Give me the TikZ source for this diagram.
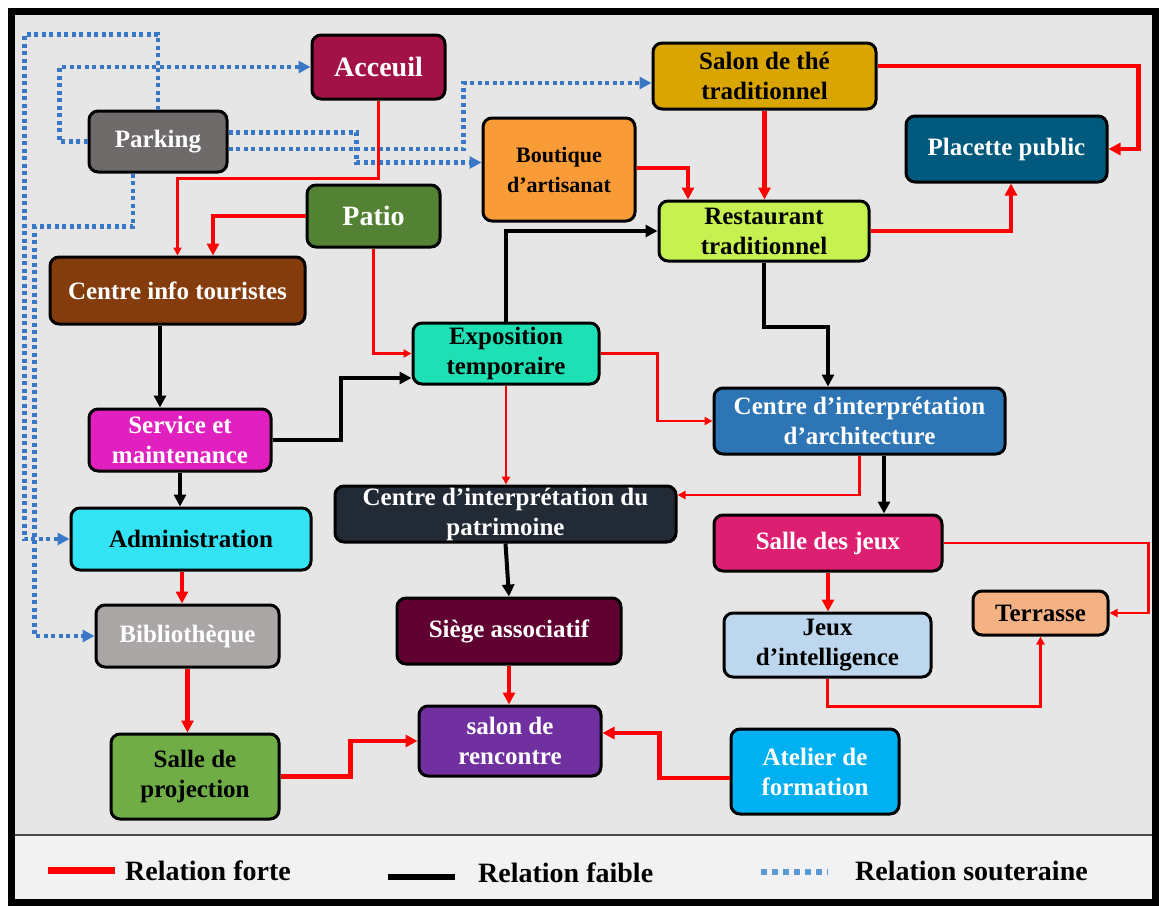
\documentclass[tikz,border=0pt]{standalone}
\usepackage{fontspec}
\setmainfont{Liberation Serif}
\usepackage{tikz}
\usetikzlibrary{arrows.meta}

\definecolor{fond}{HTML}{E6E6E6}
\definecolor{fondleg}{HTML}{F2F2F2}
\definecolor{soutblue}{HTML}{3A78C6}
\definecolor{legblue}{HTML}{5B9BD5}
\definecolor{cAcc}{HTML}{A31246}
\definecolor{cPark}{HTML}{6F6A6A}
\definecolor{cThe}{HTML}{D9A500}
\definecolor{cBout}{HTML}{F99B36}
\definecolor{cPlac}{HTML}{015A7D}
\definecolor{cPatio}{HTML}{548235}
\definecolor{cRest}{HTML}{C6F151}
\definecolor{cCit}{HTML}{843C0C}
\definecolor{cExpo}{HTML}{1EE0B4}
\definecolor{cServ}{HTML}{E021C0}
\definecolor{cArch}{HTML}{2E75B6}
\definecolor{cPatr}{HTML}{222A35}
\definecolor{cAdmin}{HTML}{33E3F3}
\definecolor{cJeux}{HTML}{DD1F72}
\definecolor{cTerr}{HTML}{F4B183}
\definecolor{cIntel}{HTML}{BDD7EE}
\definecolor{cBiblio}{HTML}{AAA6A6}
\definecolor{cSiege}{HTML}{5F0030}
\definecolor{cSalon}{HTML}{7030A0}
\definecolor{cProj}{HTML}{70AD47}
\definecolor{cAtel}{HTML}{00B0F0}

\begin{document}
\begin{tikzpicture}[x=1pt,y=-1pt,
		box/.style={draw=black,line width=3pt,rounded corners=9pt,align=center,inner sep=0pt,
			font=\fontsize{25}{30}\selectfont\bfseries},
		forte/.style={red,line width=4.5pt,-{Triangle[length=12pt,width=12pt]}},
		fine/.style={red,line width=2.5pt,-{Triangle[length=8pt,width=8pt]}},
		faible/.style={black,line width=4pt,-{Triangle[length=12pt,width=12pt]}},
		souterrain/.style={soutblue,line width=4.5pt,dash pattern=on 4pt off 3.5pt,-{Triangle[length=12pt,width=12pt]}},
		legende/.style={anchor=west,inner sep=0pt,font=\fontsize{28}{32}\selectfont\bfseries}]
			\useasboundingbox (0,0) rectangle (1159,905);
			% fond et cadre
			\fill[white] (0,0) rectangle (1159,905);
			\fill[fond] (12,11) rectangle (1155,835);
			\fill[fondleg] (12,835) rectangle (1155,902);
			\draw[line width=2pt,black!70] (12,835) -- (1155,835);
			\draw[line width=7pt] (11.5,11) rectangle (1155,902);
			% espaces
			\node[box,fill=cAcc,text=white,minimum width=133pt,minimum height=64pt,font=\fontsize{28}{32}\selectfont\bfseries] (acc) at (378.5,67) {Acceuil};
			\node[box,fill=cPark,text=white,minimum width=138pt,minimum height=61pt] (park) at (158,141.5) {Parking};
			\node[box,fill=cThe,minimum width=223pt,minimum height=66pt] (the) at (764.5,76) {Salon de thé\\traditionnel};
			\node[box,fill=cBout,minimum width=152pt,minimum height=103pt,font=\fontsize{22}{30}\selectfont\bfseries] (bout) at (559,169.5) {Boutique\\d’artisanat};
			\node[box,fill=cPlac,text=white,minimum width=201pt,minimum height=66pt] (plac) at (1006.5,149) {Placette public};
			\node[box,fill=cPatio,text=white,minimum width=133pt,minimum height=62pt,font=\fontsize{28}{32}\selectfont\bfseries] (patio) at (373.5,216) {Patio};
			\node[box,fill=cRest,minimum width=210pt,minimum height=60pt] (rest) at (764,231) {Restaurant\\traditionnel};
			\node[box,fill=cCit,text=white,minimum width=255pt,minimum height=67pt] (cit) at (177.5,290.5) {Centre info touristes};
			\node[box,fill=cExpo,minimum width=186pt,minimum height=61pt] (expo) at (506,353.5) {Exposition\\temporaire};
			\node[box,fill=cServ,text=white,minimum width=182pt,minimum height=62pt] (serv) at (180,440) {Service et\\maintenance};
			\node[box,fill=cArch,text=white,minimum width=291pt,minimum height=66pt] (arch) at (859.5,421) {Centre d’interprétation\\d’architecture};
			\node[box,fill=cPatr,text=white,minimum width=341pt,minimum height=56pt] (patr) at (505.5,514) {Centre d’interprétation du\\patrimoine};
			\node[box,fill=cAdmin,minimum width=240pt,minimum height=62pt] (admin) at (191,539) {Administration};
			\node[box,fill=cJeux,text=white,minimum width=228pt,minimum height=56pt] (jeux) at (828,543) {Salle des jeux};
			\node[box,fill=cTerr,minimum width=135pt,minimum height=44pt] (terr) at (1040.5,613) {Terrasse};
			\node[box,fill=cIntel,minimum width=207pt,minimum height=64pt] (intel) at (827.5,645) {Jeux\\d’intelligence};
			\node[box,fill=cBiblio,text=white,minimum width=183pt,minimum height=62pt] (biblio) at (187.5,636) {Bibliothèque};
			\node[box,fill=cSiege,text=white,minimum width=224pt,minimum height=66pt] (siege) at (509,631) {Siège associatif};
			\node[box,fill=cSalon,text=white,minimum width=182pt,minimum height=70pt] (salon) at (510,741) {salon de\\rencontre};
			\node[box,fill=cProj,minimum width=168pt,minimum height=85pt] (proj) at (195,776.5) {Salle de\\projection};
			\node[box,fill=cAtel,text=white,minimum width=168pt,minimum height=85pt] (atel) at (815,771.5) {Atelier de\\formation};
			% relations souterraines
			\draw[souterrain] (park.north) -- ++(0,-75) -| ([xshift=-45pt]admin.west) -- (admin.west);
			\draw[souterrain] ([xshift=-25pt]park.south) -- ++(0,53) -| ([xshift=-60pt]biblio.west) -- (biblio.west);
			\draw[souterrain] (park.west) -- ++(-28,0) |- (acc.west);
			\draw[souterrain] ([yshift=9pt]park.east) -- ++(128,0) |- ([yshift=7pt]bout.west);
			\draw[souterrain] ([yshift=-7.5pt]park.east) -- ++(235,0) |- ([yshift=-7pt]the.west);
			% relations fortes
			\draw[fine] (acc.south) -- ++(0,78) -| (cit.north);
			\draw[forte] (patio.west) -| ([xshift=35.5pt]cit.north);
			\draw[fine] (patio.south) |- (expo.west);
			\draw[forte] ([yshift=10pt]the.east) -- ++(261,0) |- (plac.east);
			\draw[forte] (the.south) -- (the.south |- rest.north);
			\draw[forte] ([yshift=1.5pt]bout.east) -| ([xshift=-76pt]rest.north);
			\draw[forte] (rest.east) -| ([xshift=4.5pt]plac.south);
			\draw[fine] (expo.east) -- ++(57,0) |- (arch.west);
			\draw[fine] (expo.south) -- (expo.south |- patr.north);
			\draw[fine] (arch.south) |- ([yshift=19pt]patr.east);
			\draw[fine] (jeux.east) -- ++(205,0) |- (terr.east);
			\draw[forte] (jeux.south) -- (jeux.south |- intel.north);
			\draw[fine] (intel.south) -- ++(0,28) -| (terr.south);
			\draw[forte] ([xshift=-9pt]admin.south) -- ([xshift=-5.5pt]biblio.north);
			\draw[forte] (biblio.south) -- (biblio.south |- proj.north);
			\draw[forte] (proj.east) -- ++(70,0) |- (salon.west);
			\draw[forte] (siege.south) -- (siege.south |- salon.north);
			\draw[forte] ([yshift=-6.5pt]atel.west) -- ++(-70,0) |- ([yshift=8pt]salon.east);
			% relations faibles
			\draw[faible] ([xshift=-17.5pt]cit.south) -- ([xshift=-20pt]serv.north);
			\draw[faible] (serv.east) -- ++(68,0) |- ([yshift=-24.5pt]expo.west);
			\draw[faible] (expo.north) |- (rest.west);
			\draw[faible] (rest.south) -- ++(0,64) -| ([xshift=-31.5pt]arch.north);
			\draw[faible] (serv.south) -- (serv.south |- admin.north);
			\draw[faible] ([xshift=24.5pt]arch.south) -- ([xshift=24.5pt]arch.south |- jeux.north);
			\draw[faible] (patr.south) -- (siege.north);
			% legende
			\draw[red,line width=7pt] (48,870) -- (115,870);
			\node[legende] (lforte) at (125,871) {Relation forte};
			\draw[black,line width=6pt] (388,877) -- (455,877);
			\node[legende] (lfaible) at (478,873) {Relation faible};
			\draw[legblue,line width=6pt,dash pattern=on 6pt off 5pt] (761,872) -- (828,872);
			\node[legende] (lsout) at (855,871) {Relation souteraine};
		\end{tikzpicture}
\end{document}
